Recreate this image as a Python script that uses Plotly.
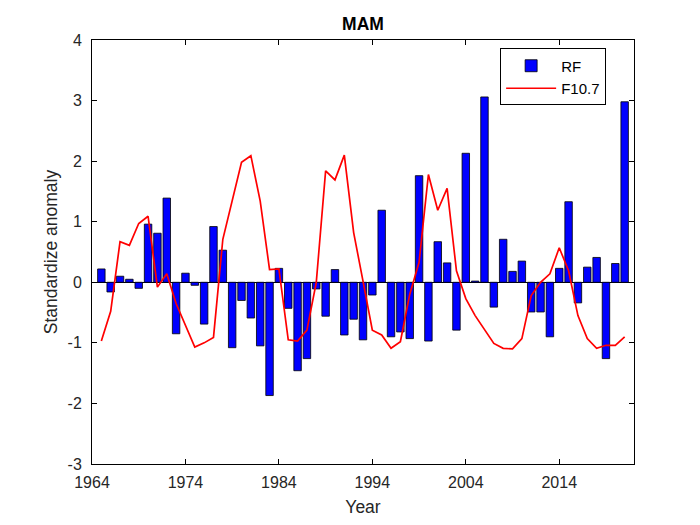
import plotly.graph_objects as go

# MAM standardized anomalies, 1965-2021
years = list(range(1965, 2022))

rf = [0.22, -0.16, 0.10, 0.05, -0.10, 0.96, 0.81, 1.39, -0.85, 0.15,
      -0.05, -0.69, 0.92, 0.53, -1.08, -0.30, -0.59, -1.05, -1.87, 0.23,
      -0.43, -1.46, -1.26, -0.11, -0.56, 0.21, -0.87, -0.61, -0.95, -0.21,
      1.19, -0.90, -0.82, -0.93, 1.76, -0.97, 0.67, 0.32, -0.79, 2.13,
      0.02, 3.06, -0.41, 0.71, 0.18, 0.35, -0.49, -0.49, -0.90, 0.23,
      1.33, -0.34, 0.25, 0.41, -1.26, 0.31, 2.98]

f107 = [-0.97, -0.48, 0.67, 0.61, 0.97, 1.09, -0.08, 0.14, -0.35, -0.72,
        -1.07, -1.00, -0.91, 0.71, 1.34, 1.98, 2.09, 1.34, 0.21, 0.22,
        -0.95, -0.97, -0.79, 0.00, 1.84, 1.69, 2.10, 0.82, 0.02, -0.79,
        -0.87, -1.09, -0.98, -0.20, 0.33, 1.78, 1.19, 1.55, 0.19, -0.27,
        -0.55, -0.79, -1.01, -1.09, -1.10, -0.93, -0.22, 0.00, 0.14, 0.57,
        0.19, -0.55, -0.93, -1.09, -1.04, -1.04, -0.90]

xticks = [1964, 1974, 1984, 1994, 2004, 2014]
yticks = [-3, -2, -1, 0, 1, 2, 3, 4]
ytick_labels = ['-3', '-2', '-1', '0', '1', '2', '3', '4']

font = 'Liberation Sans, Arial, sans-serif'
W, H = 692, 517  # page body has an 8px margin

fig = go.Figure()

fig.add_trace(go.Bar(
    x=years, y=rf, name='RF',
    marker=dict(color='rgb(0,0,255)', line=dict(color='black', width=0.8)),
    width=0.8,
))

fig.add_trace(go.Scatter(
    x=years, y=f107, name='F10.7', mode='lines',
    line=dict(color='rgb(255,0,0)', width=1.7),
))

axis_common = dict(
    showline=True, linecolor='black', linewidth=1, mirror='ticks',
    ticks='inside', ticklen=5, tickcolor='black',
    showgrid=False, tickfont=dict(size=16, color='#262626', family=font),
)

fig.update_layout(
    width=W, height=H,
    margin=dict(l=84, r=66, t=32, b=58),
    paper_bgcolor='white', plot_bgcolor='white',
    title=dict(text='<b>MAM</b>', x=(84 + 271) / W, xanchor='center',
               yref='container', y=1 - 16 / H, yanchor='middle',
               font=dict(size=17.5, color='black', family=font)),
    xaxis=dict(range=[1964, 2022], tickvals=xticks, zeroline=False,
               ticklabelstandoff=4,
               title=dict(text='Year', font=dict(size=17.5, color='#262626', family=font), standoff=10),
               **axis_common),
    yaxis=dict(range=[-3, 4], tickvals=yticks, ticktext=ytick_labels,
               zeroline=True, zerolinecolor='black', zerolinewidth=1,
               ticklabelstandoff=6,
               title=dict(text='Standardize anomaly', font=dict(size=17.5, color='#262626', family=font), standoff=5),
               **axis_common),
    legend=dict(x=0.753, y=0.98, xanchor='left', yanchor='top',
                bordercolor='black', borderwidth=1, bgcolor='white',
                font=dict(size=15, color='black', family=font),
                itemwidth=50, tracegroupgap=0),
    showlegend=True,
    bargap=0.2,
)

fig.write_html("out.html")
